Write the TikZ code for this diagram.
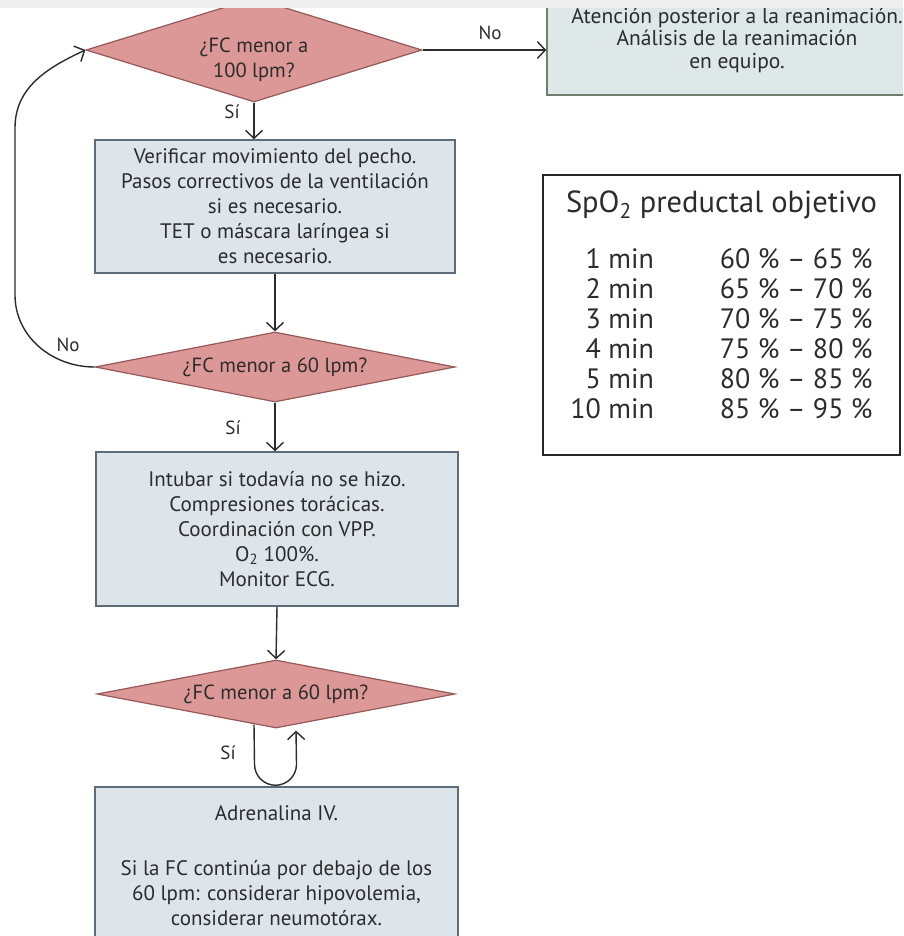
\documentclass[tikz,border=0pt]{standalone}
\usepackage{fontspec}
\setmainfont{PT Sans}
\usetikzlibrary{shapes.geometric, arrows.meta, positioning}
\definecolor{decfill}{RGB}{220,152,150}
\definecolor{decdraw}{RGB}{150,88,88}
\definecolor{actfill}{RGB}{221,229,235}
\definecolor{actdraw}{RGB}{92,108,122}
\definecolor{endfill}{RGB}{223,232,233}
\definecolor{enddraw}{RGB}{112,126,112}
\definecolor{inkgray}{RGB}{44,44,44}
\definecolor{topband}{RGB}{238,238,238}

\begin{document}
\begin{tikzpicture}[
    x=1pt, y=1pt,
    every node/.style={text=inkgray},
    decision/.style={diamond, draw=decdraw, fill=decfill, line width=1.2pt, inner sep=0pt, aspect=5, align=center, font=\fontsize{20.5}{25}\selectfont},
    action/.style={rectangle, draw=actdraw, fill=actfill, line width=1.5pt, align=center, font=\fontsize{21}{25}\selectfont},
    final/.style={rectangle, draw=enddraw, fill=endfill, line width=1.5pt, align=center, font=\fontsize{21.5}{22.5}\selectfont},
    tablebox/.style={rectangle, draw=black!85, line width=2.2pt, align=center, minimum width=357pt, minimum height=280pt},
    lbl/.style={font=\fontsize{19}{20}\selectfont},
    arrow/.style={-{Straight Barb[length=8pt,width=17pt]}, line width=1.4pt, draw=inkgray}
]
    \useasboundingbox (0,0) rectangle (903,-936);
    \clip (0,0) rectangle (903,-936);
    \fill[white] (0,0) rectangle (903,-936);

    % Decisions
    \node[decision, aspect=3, minimum width=336pt, minimum height=104pt] (hr100) at (254,-50)
        {\rule{0pt}{34pt}¿FC menor a\\100 lpm?};
    \node[decision, minimum width=360pt, minimum height=70pt] (hr60a) at (275,-367) {¿FC menor a 60 lpm?};
    \node[decision, minimum width=358pt, minimum height=68pt] (hr60b) at (276,-694) {¿FC menor a 60 lpm?};

    % Actions
    \node[action, minimum width=360pt, minimum height=133pt] (chest) at (275,-206.5)
        {Verificar movimiento del pecho.\\Pasos correctivos de la ventilación\\si es necesario.\\TET o máscara laríngea si\\es necesario.};
    \node[action, minimum width=362pt, minimum height=154pt] (comp) at (277,-529)
        {Intubar si todavía no se hizo.\\Compresiones torácicas.\\Coordinación con VPP.\\O\textsubscript{2} 100\%.\\Monitor ECG.};
    \node[action, minimum width=363pt, minimum height=158pt] (adren) at (276.5,-866)
        {Adrenalina IV.\\[30pt]Si la FC continúa por debajo de los\\60 lpm: considerar hipovolemia,\\considerar neumotórax.};
    \node[final, minimum width=380pt, minimum height=110pt] (post) at (737,-40)
        {Atención posterior a la reanimación.\\Análisis de la reanimación\\en equipo.};

    % SpO2 table
    \node[tablebox] (spo) at (721.5,-315) {%
        {\fontsize{30.5}{30}\selectfont SpO\textsubscript{2} preductal objetivo}\\[28pt]
        {\fontsize{28}{30}\selectfont
        \begin{tabular}{@{}r@{\hspace{66pt}}l@{}}
            1 min & 60~\% – 65~\% \\
            2 min & 65~\% – 70~\% \\
            3 min & 70~\% – 75~\% \\
            4 min & 75~\% – 80~\% \\
            5 min & 80~\% – 85~\% \\
            10 min & 85~\% – 95~\% \\[12pt]
        \end{tabular}}};

    % Connectors
    \draw[arrow] (hr100.east) -- (hr100.east -| post.west);
    \draw[arrow] (hr100.south) -- (hr100.south |- chest.north);
    \draw[arrow] (chest.south) -- (hr60a.north);
    \draw[arrow] (hr60a.south) -- (hr60a.south |- comp.north);
    \draw[arrow] (comp.south) -- (hr60b.north);
    \draw[arrow] (hr60a.west) to[out=180, in=-90] (15,-295) -- (15,-128) to[out=90, in=205] (hr100.west);
    \draw[arrow] ([xshift=-22pt, yshift=4pt]hr60b.south) -- ([xshift=-22pt, yshift=22pt]adren.north)
        arc[start angle=180, end angle=360, radius=21pt] -- ([xshift=20pt, yshift=-2pt]hr60b.south);

    % Labels
    \node[lbl] (no1) at (490,-33) {No};
    \node[lbl] (si1) at (232,-112) {Sí};
    \node[lbl] (no2) at (68,-345) {No};
    \node[lbl] (si2) at (233,-428) {Sí};
    \node[lbl] (si3) at (228,-753) {Sí};

    % top band
    \fill[topband] (0,0) rectangle (903,-8);
\end{tikzpicture}
\end{document}
